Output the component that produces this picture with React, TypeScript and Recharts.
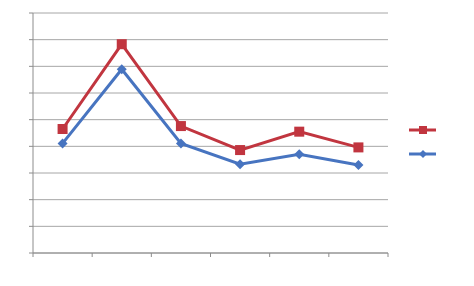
import React from 'react';
import { LineChart, Line, XAxis, YAxis, CartesianGrid } from 'recharts';

const categories = ['1', '2', '3', '4', '5', '6'];
const seriesRed = [4.65, 7.83, 4.76, 3.86, 4.55, 3.96];
const seriesBlue = [4.11, 6.89, 4.11, 3.33, 3.7, 3.3];
const yTicks = [0, 1, 2, 3, 4, 5, 6, 7, 8, 9];
const xTicks = [0, 1, 2, 3, 4, 5, 6];

const RED = '#C1353F';
const BLUE = '#4774C0';

const data = categories.map((c, i) => ({ name: c, x: i + 0.5, red: seriesRed[i], blue: seriesBlue[i] }));

const SquareDot = (props: any) => {
  const { cx, cy } = props;
  if (cx == null || cy == null) return null;
  return <rect x={cx - 5} y={cy - 5} width={10} height={10} fill={RED} />;
};
const DiamondDot = (props: any) => {
  const { cx, cy } = props;
  if (cx == null || cy == null) return null;
  const r = 5;
  return <polygon points={`${cx},${cy - r} ${cx + r},${cy} ${cx},${cy + r} ${cx - r},${cy}`} fill={BLUE} />;
};

const LegendBox = () => (
  <svg width={40} height={44} style={{ position: 'absolute', left: 405, top: 120 }}>
    <line x1={4} y1={10} x2={31} y2={10} stroke={RED} strokeWidth={3} />
    <rect x={14} y={6} width={8} height={8} fill={RED} />
    <line x1={4} y1={34} x2={31} y2={34} stroke={BLUE} strokeWidth={3} />
    <polygon points="18,30 22,34 18,38 14,34" fill={BLUE} />
  </svg>
);

export default function App() {
  return (
    <div style={{ position: 'absolute', left: 0, top: 0, width: 474, height: 286, background: '#fff' }}>
      <LineChart width={474} height={286} data={data} margin={{ top: 13, right: 86, bottom: 32, left: 32 }}>
        <CartesianGrid horizontal vertical={false} stroke="#A6A6A6" strokeWidth={1} />
        <XAxis
          dataKey="x"
          type="number"
          domain={[0, 6]}
          ticks={xTicks}
          tickFormatter={() => ''}
          height={1}
          axisLine={{ stroke: '#8C8C8C' }}
          tickLine={{ stroke: '#8C8C8C' }}
          tickSize={4}
          interval={0}
        />
        <YAxis
          type="number"
          domain={[0, 9]}
          ticks={yTicks}
          tickFormatter={() => ''}
          width={1}
          axisLine={{ stroke: '#8C8C8C' }}
          tickLine={{ stroke: '#8C8C8C' }}
          tickSize={4}
          interval={0}
        />
        <Line type="linear" dataKey="red" stroke={RED} strokeWidth={3} dot={<SquareDot />} isAnimationActive={false} />
        <Line type="linear" dataKey="blue" stroke={BLUE} strokeWidth={3} dot={<DiamondDot />} isAnimationActive={false} />
      </LineChart>
      <LegendBox />
    </div>
  );
}
